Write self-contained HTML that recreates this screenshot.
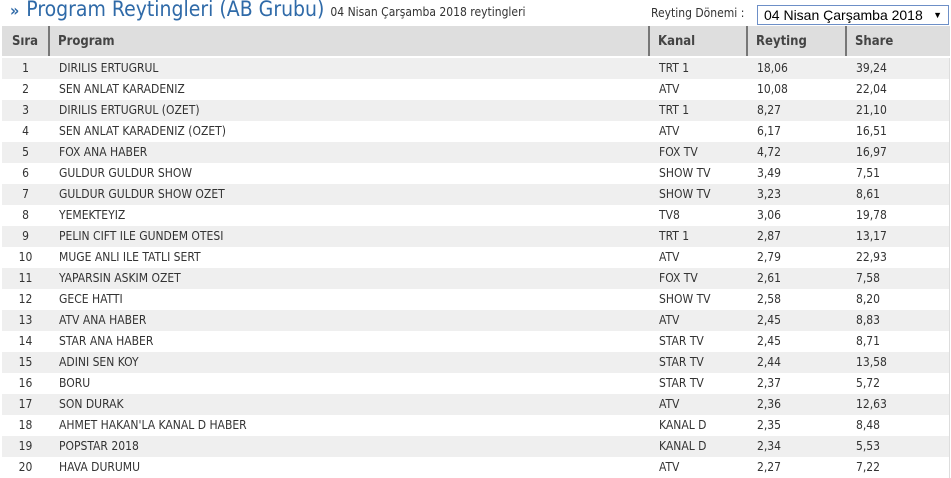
<!DOCTYPE html>
<html><head><meta charset="utf-8"><style>
body{margin:0;background:#fff;font-family:"DejaVu Sans","Liberation Sans",sans-serif;width:951px;height:477px;overflow:hidden;position:relative}
.t{position:absolute;left:10px;top:-3px;font-size:21px;color:#2f6aa8;font-family:"DejaVu Sans Condensed","DejaVu Sans",sans-serif;white-space:nowrap}
.t .a{font-size:16px;font-weight:bold;margin-right:7px}
.t small{font-size:12px;color:#333}
.sel{position:absolute;left:651px;top:6px;font-size:12px;color:#333;font-family:"DejaVu Sans Condensed","DejaVu Sans",sans-serif}
.box{position:absolute;left:757px;top:5px;border:1px solid #6d8fc7;font-family:"Liberation Sans",sans-serif;font-size:14px;color:#000;line-height:18px;padding-left:6px;box-sizing:border-box;width:192px;height:20px}
.box span{position:absolute;right:6px;top:0;font-size:9px}
table{position:absolute;left:2px;top:26px;width:948px;table-layout:fixed;border-collapse:collapse;font-size:12px;color:#333;font-family:"DejaVu Sans Condensed","DejaVu Sans",sans-serif;border-right:1px solid #ddd}
th{background:#dedede;height:30px;text-align:left;font-weight:bold;color:#444;font-size:13px;padding:0 0 0 8px;border-left:2px solid #777;border-bottom:2px solid #fff}
th:first-child{border-left:none;text-align:center;padding:0}
td{height:21px;padding:0 0 0 10px;line-height:21px}
td:first-child{text-align:center;padding:0}
tr:nth-child(even) td{background:#efefef}
</style></head><body>
<div class="t"><span class="a">»</span>Program Reytingleri (AB Grubu) <small>04 Nisan Çarşamba 2018 reytingleri</small></div>
<div class="sel">Reyting Dönemi :</div>
<div class="box">04 Nisan Çarşamba 2018<span>▼</span></div>
<table>
<colgroup><col style="width:47px"><col style="width:600px"><col style="width:98px"><col style="width:99px"><col></colgroup>
<tr><th>Sıra</th><th>Program</th><th>Kanal</th><th>Reyting</th><th>Share</th></tr>
<tr><td>1</td><td>DIRILIS ERTUGRUL</td><td>TRT 1</td><td>18,06</td><td>39,24</td></tr>
<tr><td>2</td><td>SEN ANLAT KARADENIZ</td><td>ATV</td><td>10,08</td><td>22,04</td></tr>
<tr><td>3</td><td>DIRILIS ERTUGRUL (OZET)</td><td>TRT 1</td><td>8,27</td><td>21,10</td></tr>
<tr><td>4</td><td>SEN ANLAT KARADENIZ (OZET)</td><td>ATV</td><td>6,17</td><td>16,51</td></tr>
<tr><td>5</td><td>FOX ANA HABER</td><td>FOX TV</td><td>4,72</td><td>16,97</td></tr>
<tr><td>6</td><td>GULDUR GULDUR SHOW</td><td>SHOW TV</td><td>3,49</td><td>7,51</td></tr>
<tr><td>7</td><td>GULDUR GULDUR SHOW OZET</td><td>SHOW TV</td><td>3,23</td><td>8,61</td></tr>
<tr><td>8</td><td>YEMEKTEYIZ</td><td>TV8</td><td>3,06</td><td>19,78</td></tr>
<tr><td>9</td><td>PELIN CIFT ILE GUNDEM OTESI</td><td>TRT 1</td><td>2,87</td><td>13,17</td></tr>
<tr><td>10</td><td>MUGE ANLI ILE TATLI SERT</td><td>ATV</td><td>2,79</td><td>22,93</td></tr>
<tr><td>11</td><td>YAPARSIN ASKIM OZET</td><td>FOX TV</td><td>2,61</td><td>7,58</td></tr>
<tr><td>12</td><td>GECE HATTI</td><td>SHOW TV</td><td>2,58</td><td>8,20</td></tr>
<tr><td>13</td><td>ATV ANA HABER</td><td>ATV</td><td>2,45</td><td>8,83</td></tr>
<tr><td>14</td><td>STAR ANA HABER</td><td>STAR TV</td><td>2,45</td><td>8,71</td></tr>
<tr><td>15</td><td>ADINI SEN KOY</td><td>STAR TV</td><td>2,44</td><td>13,58</td></tr>
<tr><td>16</td><td>BORU</td><td>STAR TV</td><td>2,37</td><td>5,72</td></tr>
<tr><td>17</td><td>SON DURAK</td><td>ATV</td><td>2,36</td><td>12,63</td></tr>
<tr><td>18</td><td>AHMET HAKAN'LA KANAL D HABER</td><td>KANAL D</td><td>2,35</td><td>8,48</td></tr>
<tr><td>19</td><td>POPSTAR 2018</td><td>KANAL D</td><td>2,34</td><td>5,53</td></tr>
<tr><td>20</td><td>HAVA DURUMU</td><td>ATV</td><td>2,27</td><td>7,22</td></tr>
</table>
</body></html>
